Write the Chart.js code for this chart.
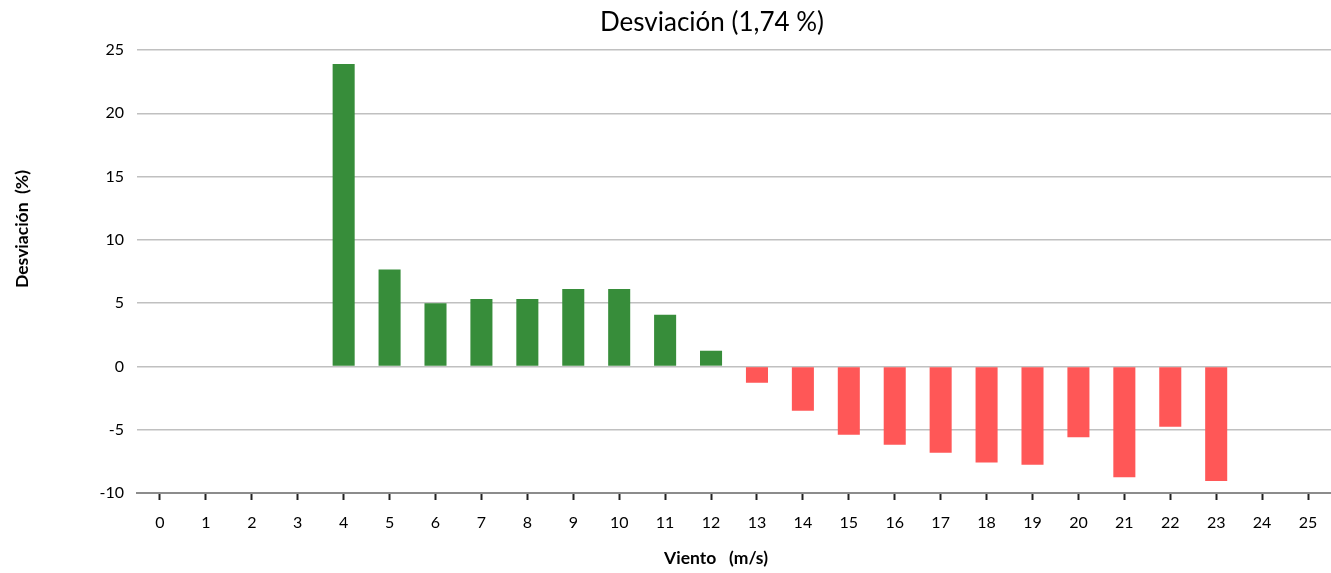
<!DOCTYPE html>
<html>
<head>
<meta charset="utf-8">
<script src="https://cdn.jsdelivr.net/npm/chart.js@4"></script>
<style>
    body { margin: 0; background: #fff; }
    canvas { display: block; }
</style>
</head>
<body>
<canvas id="chartDesv" width="1331" height="573"></canvas>
<script>
const vientos = ["0","1","2","3","4","5","6","7","8","9","10","11","12","13","14","15","16","17","18","19","20","21","22","23","24","25"];
const desviacion = [null, null, null, null, 23.9, 7.65, 5.0, 5.33, 5.33, 6.12, 6.12, 4.08, 1.24, -1.29, -3.5, -5.4, -6.18, -6.82, -7.6, -7.76, -5.6, -8.76, -4.76, -9.05, null, null];
const yTicks = [-10, -5, 0, 5, 10, 15, 20, 25];

const titulo = "Desviación (1,74 %)";
const tituloY = "Desviación  (%)";
const tituloX = "Viento   (m/s)";

const VERDE = "#378d3a";
const ROJO = "#ff5757";
const FUENTE = "Lato, 'Open Sans', sans-serif";

// textos dibujados a mano para poder colocarlos como en el original
const textos = {
    id: "textos",
    afterDraw(chart) {
        const ctx = chart.ctx;
        ctx.save();
        ctx.fillStyle = "#000";
        ctx.textAlign = "center";
        ctx.textBaseline = "middle";

        ctx.font = "26px " + FUENTE;
        ctx.fillText(titulo, 712, 23);

        ctx.font = "bold 17.5px " + FUENTE;
        ctx.fillText(tituloX, 716, 558);

        ctx.translate(22, 229);
        ctx.rotate(-Math.PI / 2);
        ctx.fillText(tituloY, 0, 0);
        ctx.restore();
    }
};

const ctx = document.getElementById("chartDesv").getContext("2d");

new Chart(ctx, {
    type: "bar",
    data: {
        labels: vientos,
        datasets: [
            {
                label: "Desviación",
                data: desviacion,
                backgroundColor: desviacion.map(v => (v !== null && v < 0) ? ROJO : VERDE),
                barPercentage: 0.48,
                categoryPercentage: 1
            }
        ]
    },
    options: {
        responsive: false,
        animation: false,
        layout: { padding: { top: 50, right: 0, left: 0, bottom: 0 } },
        scales: {
            x: {
                offset: true,
                grid: {
                    offset: false,
                    drawOnChartArea: false,
                    drawTicks: true,
                    tickLength: 7,
                    tickColor: "#222",
                    tickWidth: 2
                },
                border: { color: "#8c8c8c", width: 2 },
                ticks: {
                    color: "#000",
                    font: { family: FUENTE, size: 16 },
                    padding: 13,
                    maxRotation: 0,
                    autoSkip: false
                },
                afterFit(scale) { scale.height = 80; }
            },
            y: {
                min: -10,
                max: 25,
                afterBuildTicks(scale) {
                    scale.ticks = yTicks.map(v => ({ value: v }));
                },
                grid: {
                    color: "#c0c0c0",
                    lineWidth: 1.5,
                    drawTicks: false
                },
                border: { display: false },
                ticks: {
                    color: "#000",
                    font: { family: FUENTE, size: 16 },
                    padding: 13
                },
                afterFit(scale) { scale.width = 137; }
            }
        },
        plugins: {
            legend: { display: false },
            title: { display: false },
            tooltip: { enabled: false }
        }
    },
    plugins: [textos]
});
</script>
</body>
</html>
